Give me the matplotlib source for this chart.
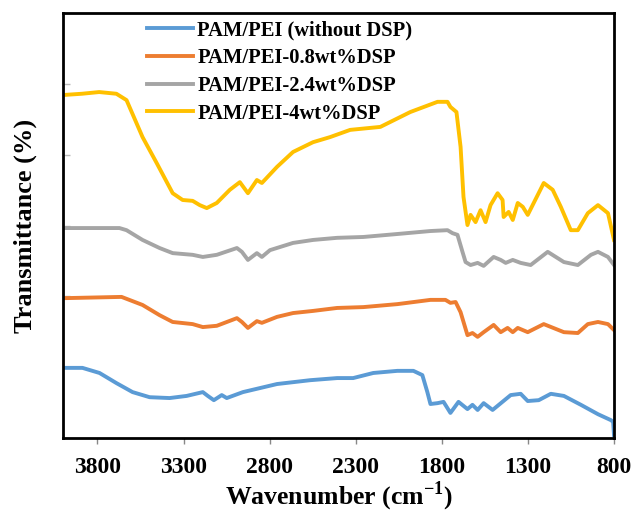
import numpy as np
import matplotlib
matplotlib.use("Agg")
from matplotlib import pyplot as plt

# FTIR spectra (wavenumber in cm-1, transmittance in arbitrary %)
wn_blank = [4000, 3887, 3788, 3689, 3596, 3497, 3381, 3282, 3188, 3159, 3124, 3078, 3049, 2955,
            2757, 2565, 2408, 2315, 2198, 2058, 1965, 1913, 1884, 1866, 1825, 1790, 1750, 1703,
            1651, 1622, 1592, 1557, 1505, 1400, 1342, 1301, 1237, 1167, 1091, 992, 893, 818, 805, 800]
t_blank = [16.5, 16.5, 15.3, 12.9, 10.8, 9.6, 9.4, 9.9, 10.8, 9.9, 8.9, 10.1, 9.4, 10.8,
           12.7, 13.6, 14.1, 14.1, 15.3, 15.8, 15.8, 14.8, 10.8, 8.0, 8.2, 8.5, 5.9, 8.5,
           6.8, 7.8, 6.6, 8.2, 6.6, 10.1, 10.4, 8.7, 8.9, 10.4, 9.9, 7.8, 5.6, 4.2, 3.8, 0.7]

wn_08 = [4000, 3660, 3538, 3439, 3363, 3247, 3188, 3107, 2990, 2961, 2926, 2874, 2845, 2757,
         2664, 2548, 2408, 2256, 2058, 1866, 1779, 1750, 1720, 1691, 1651, 1622, 1592, 1557,
         1499, 1458, 1418, 1388, 1359, 1301, 1208, 1091, 1010, 952, 893, 835, 800]
t_08 = [32.9, 33.2, 31.3, 28.9, 27.3, 26.8, 26.1, 26.4, 28.2, 27.3, 25.9, 27.5, 27.1, 28.5,
        29.4, 29.9, 30.6, 30.8, 31.5, 32.5, 32.5, 31.8, 32.0, 29.6, 24.2, 24.7, 23.8, 24.9,
        26.6, 24.9, 25.9, 24.9, 25.9, 24.9, 26.8, 24.9, 24.7, 26.8, 27.3, 26.8, 25.4]

wn_24 = [4000, 3672, 3631, 3538, 3439, 3363, 3247, 3188, 3107, 2990, 2961, 2926, 2874, 2845,
         2798, 2664, 2548, 2408, 2256, 2058, 1866, 1767, 1738, 1709, 1680, 1662, 1633, 1592,
         1557, 1499, 1458, 1429, 1388, 1342, 1284, 1185, 1091, 1010, 934, 893, 835, 800]
t_24 = [49.4, 49.4, 48.9, 46.6, 44.7, 43.5, 43.1, 42.6, 43.1, 44.7, 43.8, 41.9, 43.5, 42.6,
        44.2, 45.9, 46.6, 47.1, 47.3, 48.0, 48.7, 48.9, 48.2, 47.8, 43.8, 41.4, 40.7, 41.2,
        40.5, 42.6, 41.9, 41.2, 41.9, 41.2, 40.7, 43.8, 41.4, 40.7, 43.1, 43.8, 42.6, 40.7]

wn_4 = [4000, 3890, 3790, 3690, 3631, 3538, 3456, 3363, 3305, 3247, 3206, 3165, 3107, 3031,
        2973, 2926, 2874, 2845, 2757, 2664, 2548, 2449, 2332, 2157, 1983, 1825, 1767, 1750,
        1715, 1691, 1674, 1651, 1633, 1604, 1575, 1546, 1517, 1476, 1447, 1441, 1412, 1388,
        1359, 1330, 1301, 1208, 1156, 1109, 1051, 1010, 952, 893, 835, 800]
t_4 = [80.7, 81.0, 81.4, 81.0, 79.5, 70.8, 64.7, 57.6, 56.0, 55.8, 54.8, 54.1, 55.3, 58.4,
       60.2, 57.6, 60.7, 60.0, 63.8, 67.3, 69.6, 70.8, 72.5, 73.2, 76.7, 79.1, 79.1, 77.9,
       76.7, 68.5, 56.7, 50.1, 52.5, 50.8, 53.6, 50.8, 54.8, 57.6, 56.0, 52.0, 53.2, 51.3,
       55.3, 54.4, 52.5, 60.0, 58.4, 54.4, 48.9, 48.9, 52.9, 54.8, 52.9, 46.6]

labels = ["PAM/PEI (without DSP)", "PAM/PEI-0.8wt%DSP", "PAM/PEI-2.4wt%DSP", "PAM/PEI-4wt%DSP"]
colors = ["#5B9BD5", "#ED7D31", "#A5A5A5", "#FFC000"]
xticks = [3800, 3300, 2800, 2300, 1800, 1300, 800]

plt.rcParams['font.family'] = ['Liberation Serif', 'DejaVu Serif']
plt.rcParams['font.weight'] = 'bold'
plt.rcParams['mathtext.fontset'] = 'custom'
plt.rcParams['mathtext.rm'] = 'Liberation Serif:bold'
plt.rcParams['mathtext.bf'] = 'Liberation Serif:bold'

fig = plt.figure(figsize=(6.34, 5.15), dpi=100)
ax = fig.add_axes([63/634, 77/515, 551/634, 425/515])

series = [(wn_blank, t_blank), (wn_08, t_08), (wn_24, t_24), (wn_4, t_4)]
for (w, t), lab, c in zip(series, labels, colors):
    ax.plot(w, t, color=c, lw=2.8, label=lab, solid_joinstyle='round')

ax.set_xlim(4000, 800)
ax.set_ylim(0, 100)
ax.set_xticks(xticks)
ax.set_xticklabels([str(v) for v in xticks], fontsize=17, fontweight='bold')
ax.set_yticks(np.linspace(0, 100, 7))
ax.set_yticklabels([])
ax.tick_params(axis='x', direction='out', length=4, width=1, color='#888888', pad=10)
ax.tick_params(axis='y', direction='in', length=5, width=1, color='#bbbbbb')

for s in ax.spines.values():
    s.set_linewidth(2)
    s.set_color('black')

ax.set_xlabel(r'Wavenumber (cm$^{\mathbf{-1}}$)', fontsize=18.5, fontweight='bold')
ax.set_ylabel('Transmittance (%)', fontsize=19, fontweight='bold')
ax.xaxis.set_label_coords(0.5, -0.098)
ax.yaxis.set_label_coords(-0.047, 0.5)

ax.legend(loc='upper left', bbox_to_anchor=(0.1525, 0.983), frameon=False,
          prop={'family': 'Liberation Serif', 'weight': 'bold', 'size': 14.8},
          handlelength=2.25, handletextpad=0.2, labelspacing=0.38,
          borderpad=0, borderaxespad=0)

plt.savefig("out.png", dpi=100)
